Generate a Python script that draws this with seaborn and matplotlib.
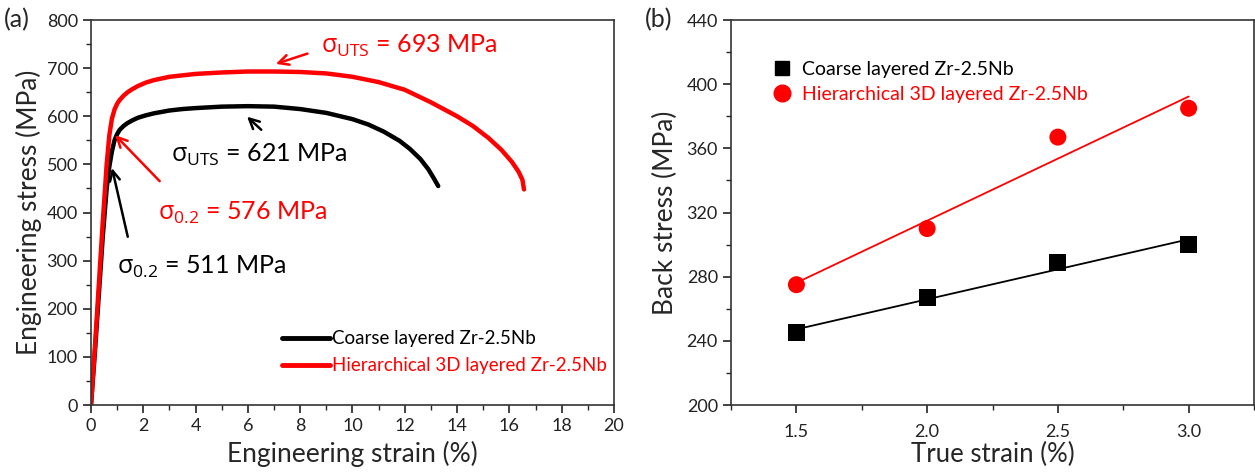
import numpy as np
import pandas as pd
import matplotlib
matplotlib.use("Agg")
import matplotlib.pyplot as plt
import seaborn as sns
from matplotlib.ticker import MultipleLocator
from matplotlib.lines import Line2D

# ---------------- data ----------------
series_names = ["Coarse layered Zr-2.5Nb", "Hierarchical 3D layered Zr-2.5Nb"]

coarse_strain = [0, 0.15, 0.3, 0.45, 0.6, 0.7, 0.8, 0.9, 1.0, 1.1, 1.25, 1.4, 1.6, 1.8, 2.1,
                 2.4, 3.0, 3.5, 4.0, 5.0, 6.0, 7.0, 8.0, 9.0, 10.0, 10.6, 11.2, 11.8,
                 12.2, 12.6, 12.9, 13.1, 13.28]
coarse_stress = [0, 110, 230, 350, 450, 495, 527, 550, 563, 572, 580, 586, 592, 597, 602,
                 606, 612, 615, 617, 620, 621, 620, 615, 607, 594, 583, 568, 549,
                 532, 511, 490, 472, 455]

hier_strain = [0, 0.15, 0.3, 0.45, 0.6, 0.7, 0.8, 0.9, 1.0, 1.1, 1.25, 1.4, 1.6, 1.8, 2.1,
               2.4, 3.0, 3.5, 4.0, 5.0, 6.0, 7.0, 8.0, 9.0, 10.0, 11.0, 12.0, 13.0,
               14.0, 14.6, 15.2, 15.7, 16.1, 16.35, 16.5, 16.56]
hier_stress = [0, 120, 250, 380, 500, 560, 595, 614, 626, 634, 643, 650, 657, 663, 670,
               675, 682, 685, 688, 691, 693, 693, 692, 689, 682, 671, 655, 629,
               600, 580, 555, 530, 505, 485, 468, 448]

true_strain = [1.5, 2.0, 2.5, 3.0]
back_coarse = [245, 267, 289, 300]
back_hier = [275, 310, 367, 385]

xticks_a = [0, 2, 4, 6, 8, 10, 12, 14, 16, 18, 20]
yticks_a = [0, 100, 200, 300, 400, 500, 600, 700, 800]
xticks_b = [1.5, 2.0, 2.5, 3.0]
yticks_b = [200, 240, 280, 320, 360, 400, 440]

RED = "#ff0000"
BLACK = "#000000"

sns.set_theme(style="ticks")
plt.rcParams["font.family"] = ["Lato", "DejaVu Sans"]
plt.rcParams["mathtext.fontset"] = "custom"
plt.rcParams["mathtext.rm"] = "Open Sans"
plt.rcParams["mathtext.it"] = "Open Sans:italic"
plt.rcParams["axes.linewidth"] = 1.2
plt.rcParams["xtick.major.width"] = 1.2
plt.rcParams["ytick.major.width"] = 1.2
plt.rcParams["xtick.minor.width"] = 1.0
plt.rcParams["ytick.minor.width"] = 1.0
plt.rcParams["xtick.major.size"] = 6
plt.rcParams["ytick.major.size"] = 6
plt.rcParams["xtick.minor.size"] = 3.5
plt.rcParams["ytick.minor.size"] = 3.5
plt.rcParams["xtick.direction"] = "out"
plt.rcParams["ytick.direction"] = "out"

fig = plt.figure(figsize=(12.55, 4.72), dpi=100)
axa = fig.add_axes([0.0725, 0.1419, 0.4167, 0.8157])
axb = fig.add_axes([0.5825, 0.1419, 0.4167, 0.8157])

TICK_FS = 13
LABEL_FS = 19
ANN_FS = 18

# ---------------- panel (a) ----------------
dfa = pd.concat([
    pd.DataFrame({"strain": coarse_strain, "stress": coarse_stress, "sample": series_names[0]}),
    pd.DataFrame({"strain": hier_strain, "stress": hier_stress, "sample": series_names[1]}),
])
sns.lineplot(data=dfa, x="strain", y="stress", hue="sample", units="sample",
             estimator=None, sort=False, palette=[BLACK, RED], linewidth=3.2,
             legend=False, ax=axa)
for ln in axa.get_lines():
    ln.set_solid_joinstyle("round")

axa.set_xlim(0, 20)
axa.set_ylim(0, 800)
axa.set_xticks(xticks_a)
axa.set_yticks(yticks_a)
axa.xaxis.set_minor_locator(MultipleLocator(1))
axa.yaxis.set_minor_locator(MultipleLocator(50))
axa.tick_params(labelsize=TICK_FS, colors="#222222")
axa.set_xlabel("Engineering strain (%)", fontsize=LABEL_FS, labelpad=5)
axa.set_ylabel("Engineering stress (MPa)", fontsize=LABEL_FS, labelpad=3)
for s in axa.spines.values():
    s.set_color("#333333")

arr_kw = dict(arrowstyle="->", lw=1.8, mutation_scale=18)
axa.annotate("", xy=(6.97, 707), xytext=(8.38, 732),
             arrowprops=dict(color=RED, **arr_kw))
axa.text(8.8, 746, r"$\mathrm{σ_{UTS}}$ = 693 MPa", color=RED, fontsize=ANN_FS,
         va="center", ha="left")
axa.annotate("", xy=(5.89, 603), xytext=(6.59, 568),
             arrowprops=dict(color=BLACK, **arr_kw))
axa.text(3.05, 519, r"$\mathrm{σ_{UTS}}$ = 621 MPa", color=BLACK, fontsize=ANN_FS,
         va="center", ha="left")
axa.annotate("", xy=(0.85, 565), xytext=(2.70, 461),
             arrowprops=dict(color=RED, **arr_kw))
axa.text(2.55, 400, r"$\mathrm{σ_{0.2}}$ = 576 MPa", color=RED, fontsize=ANN_FS,
         va="center", ha="left")
axa.annotate("", xy=(0.78, 498), xytext=(1.43, 344),
             arrowprops=dict(color=BLACK, **arr_kw))
axa.text(0.98, 286, r"$\mathrm{σ_{0.2}}$ = 511 MPa", color=BLACK, fontsize=ANN_FS,
         va="center", ha="left")

handles_a = [Line2D([], [], color=BLACK, lw=3.5), Line2D([], [], color=RED, lw=3.5)]
lega = axa.legend(handles_a, series_names, loc="lower left", bbox_to_anchor=(0.35, 0.06),
                  frameon=False, fontsize=13.5, handlelength=2.6, handletextpad=0.1,
                  labelspacing=0.55, borderaxespad=0)
for t, c in zip(lega.get_texts(), [BLACK, RED]):
    t.set_color(c)

fig.text(0.003, 0.958, "(a)", fontsize=18, va="center", ha="left")

# ---------------- panel (b) ----------------
dfb = pd.concat([
    pd.DataFrame({"strain": true_strain, "back": back_coarse, "sample": series_names[0]}),
    pd.DataFrame({"strain": true_strain, "back": back_hier, "sample": series_names[1]}),
])
sns.regplot(x=true_strain, y=back_coarse, scatter=False, ci=None, truncate=True,
            color=BLACK, line_kws=dict(lw=1.3), ax=axb)
sns.regplot(x=true_strain, y=back_hier, scatter=False, ci=None, truncate=True,
            color=RED, line_kws=dict(lw=1.3), ax=axb)
sns.scatterplot(data=dfb, x="strain", y="back", hue="sample", style="sample",
                markers={series_names[0]: "s", series_names[1]: "o"},
                palette=[BLACK, RED], s=150, linewidth=0, legend=False, ax=axb, zorder=3)

axb.set_xlim(1.25, 3.25)
axb.set_ylim(200, 440)
axb.set_xticks(xticks_b)
axb.set_xticklabels([f"{v:.1f}" for v in xticks_b])
axb.set_yticks(yticks_b)
axb.xaxis.set_minor_locator(MultipleLocator(0.25))
axb.yaxis.set_minor_locator(MultipleLocator(20))
axb.tick_params(labelsize=TICK_FS, colors="#222222")
axb.tick_params(axis="x", pad=8)
axb.set_xlabel("True strain (%)", fontsize=18.5, labelpad=1)
axb.set_ylabel("Back stress (MPa)", fontsize=LABEL_FS, labelpad=6)
for s in axb.spines.values():
    s.set_color("#333333")

handles_b = [Line2D([], [], color=BLACK, marker="s", ls="none", markersize=10),
             Line2D([], [], color=RED, marker="o", ls="none", markersize=12)]
legb = axb.legend(handles_b, series_names, loc="upper left", bbox_to_anchor=(0.06, 0.915),
                  frameon=False, fontsize=14, handletextpad=0.45, labelspacing=0.45,
                  borderaxespad=0, handlelength=1.2)
for t, c in zip(legb.get_texts(), [BLACK, RED]):
    t.set_color(c)

fig.text(0.514, 0.958, "(b)", fontsize=18, va="center", ha="left")

fig.savefig("out.png", dpi=100)
